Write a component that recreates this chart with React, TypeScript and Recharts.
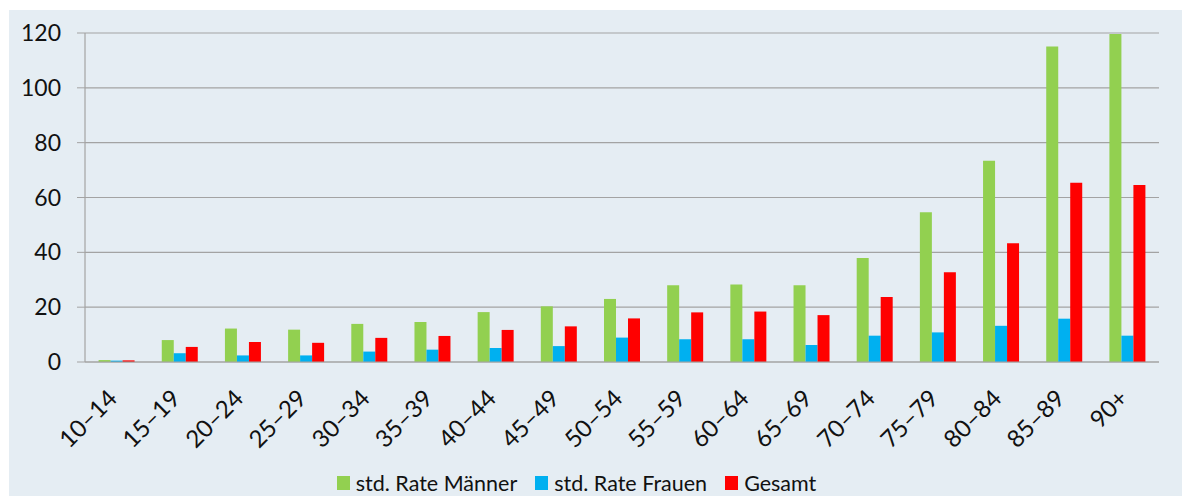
import React from 'react';
import { BarChart, Bar, XAxis, YAxis, CartesianGrid } from 'recharts';

// age groups and rates
const ageGroups = ['10–14', '15–19', '20–24', '25–29', '30–34', '35–39', '40–44', '45–49', '50–54', '55–59', '60–64', '65–69', '70–74', '75–79', '80–84', '85–89', '90+'];
const rateMen = [0.7, 8.0, 12.2, 11.8, 13.9, 14.6, 18.2, 20.3, 23.0, 28.0, 28.3, 28.0, 37.9, 54.6, 73.4, 115.1, 119.6];
const rateWomen = [0.5, 3.2, 2.4, 2.4, 3.8, 4.5, 5.1, 5.8, 8.9, 8.3, 8.3, 6.2, 9.6, 10.8, 13.2, 15.8, 9.6];
const rateTotal = [0.6, 5.5, 7.3, 7.0, 8.8, 9.5, 11.7, 13.0, 15.9, 18.1, 18.4, 17.1, 23.7, 32.7, 43.3, 65.4, 64.6];
const yTicks = [0, 20, 40, 60, 80, 100, 120];

const seriesNames = ['std. Rate Männer', 'std. Rate Frauen', 'Gesamt'];
const seriesColors = ['#92D050', '#00B0F0', '#FF0000'];

const data = ageGroups.map((age, i) => ({
  age,
  men: rateMen[i],
  women: rateWomen[i],
  total: rateTotal[i],
}));

const FONT = 'Lato, "Open Sans", sans-serif';

const AgeTick = (props: any) => {
  const { x, y, payload } = props;
  return (
    <g transform={`translate(${x + 2},${y + 38})`}>
      <text transform="rotate(-45)" textAnchor="end" fontSize={24} fontFamily={FONT} fill="#111">
        {payload.value}
      </text>
    </g>
  );
};

// legend drawn as plain html under the plot
const LegendBox = () => (
  <div
    style={{
      position: 'absolute', left: 0, top: 460, width: 1135,
      display: 'flex', justifyContent: 'center', alignItems: 'center',
      fontFamily: FONT, fontSize: 21.5, lineHeight: '26px', color: '#111',
    }}
  >
    {seriesNames.map((name, i) => (
      <div key={name} style={{ display: 'flex', alignItems: 'center', marginRight: i < 2 ? 18 : 0 }}>
        <span style={{ width: 13, height: 14, background: seriesColors[i], display: 'inline-block', marginRight: 6 }} />
        <span>{name}</span>
      </div>
    ))}
  </div>
);

export default function App() {
  return (
    <div style={{ position: 'absolute', left: 9, top: 10, width: 1173, height: 486, background: '#E5EDF3' }}>
      <BarChart
        width={1173}
        height={486}
        data={data}
        margin={{ top: 23, right: 23, bottom: 104, left: 0 }}
        barCategoryGap="21.5%"
        barGap={0}
      >
        <CartesianGrid vertical={false} stroke="#A3A3A3" strokeWidth={1.2} />
        <XAxis
          dataKey="age"
          height={30}
          interval={0}
          tick={<AgeTick />}
          tickLine={false}
          tickSize={0}
          tickMargin={0}
          axisLine={{ stroke: '#A3A3A3', strokeWidth: 1.2 }}
        />
        <YAxis
          width={76}
          domain={[0, 120]}
          ticks={yTicks}
          interval={0}
          tickSize={8}
          tickMargin={16}
          tickLine={{ stroke: '#A3A3A3' }}
          axisLine={{ stroke: '#A3A3A3', strokeWidth: 1.2 }}
          tick={{ fontSize: 23, fontFamily: FONT, fill: '#111' }}
        />
        <Bar dataKey="men" name={seriesNames[0]} fill={seriesColors[0]} isAnimationActive={false} />
        <Bar dataKey="women" name={seriesNames[1]} fill={seriesColors[1]} isAnimationActive={false} />
        <Bar dataKey="total" name={seriesNames[2]} fill={seriesColors[2]} isAnimationActive={false} />
      </BarChart>
      <LegendBox />
    </div>
  );
}
